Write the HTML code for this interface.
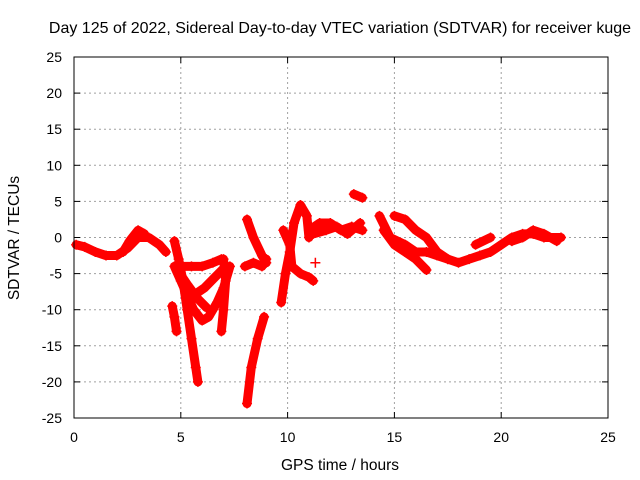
<!DOCTYPE html>
<html><head><meta charset="utf-8"><style>
body{margin:0;background:#fff;}
svg{display:block;font-family:"Liberation Sans",sans-serif;}
</style></head><body>
<svg id="chart" width="640" height="480" viewBox="0 0 640 480">
<rect width="640" height="480" fill="#fff"/>
<text x="340" y="33" font-size="16" text-anchor="middle">Day 125 of 2022, Sidereal Day-to-day VTEC variation (SDTVAR) for receiver kuge</text>
<text transform="translate(19,238) rotate(-90)" font-size="15.5" text-anchor="middle">SDTVAR / TECUs</text>
<text x="340" y="470" font-size="15.5" text-anchor="middle">GPS time / hours</text>
<g id="grid"></g><g id="series"></g><g id="axes"></g>
</svg>
<script>
const xTicks=[0,5,10,15,20,25];
const yTicks=[25,20,15,10,5,0,-5,-10,-15,-20,-25];
const trackA=[[0.1,-1],[0.5,-1.3],[1,-2],[1.5,-2.5],[2,-2.5],[2.5,-1.5],[3,0],[3.5,0],[4,-1],[4.3,-2]];
const trackA2=[[2.3,-2],[2.6,-0.5],[3.0,1],[3.3,0.5]];
const trackB=[[4.7,-0.5],[4.9,-3],[5.1,-6],[5.3,-10],[5.5,-14],[5.7,-18],[5.8,-20]];
const trackC=[[4.7,-4],[5,-6],[5.3,-8],[5.6,-10],[6,-11.5],[6.3,-11],[6.7,-9],[7,-7],[7.3,-4]];
const trackD=[[5.0,-4],[5.5,-4],[6,-4],[6.5,-3.5],[6.9,-3]];
const trackD2=[[4.8,-4.3],[5.3,-6.5],[5.8,-8.5],[6.2,-9.7]];
const trackD3=[[5.6,-8],[6.1,-7],[6.6,-5.5],[7.1,-4]];
const trackE=[[4.6,-9.5],[4.7,-11],[4.8,-13]];
const trackF=[[7.0,-3],[7.1,-6],[7.0,-10],[6.9,-13]];
const trackG=[[8.1,2.5],[8.4,0],[8.8,-2.5],[9,-3.5]];
const trackG2=[[8.0,-4],[8.4,-3.5],[8.8,-4],[9.0,-3]];
const trackH=[[8.1,-23],[8.3,-18],[8.6,-14],[8.9,-11]];
const trackI=[[9.7,-9],[9.9,-5],[10.1,-2],[10.3,2],[10.6,4.5],[10.9,3],[11,0]];
const trackI2=[[9.8,1],[10.1,-1],[10.2,-4],[10.6,-5],[11,-5.5],[11.2,-6]];
const trackJ=[[11,1],[11.5,2],[12,2],[12.5,1],[13,1.5],[13.5,1]];
const trackJ3=[[11.2,0.5],[11.8,1],[12.3,1.5],[12.8,0.5],[13.4,2]];
const trackJ2=[[13.1,6],[13.5,5.5]];
const trackK=[[14.3,3],[14.8,0],[15.5,-1],[16,-2],[16.5,-2],[17,-2.5],[17.5,-3],[18,-3.5],[18.5,-3],[19,-2.5],[19.5,-2],[20,-1],[20.5,0],[21,0.5],[21.5,0.5],[22,0],[22.8,0]];
const trackK2=[[20.5,-0.5],[21,0],[21.5,1],[22,0.5],[22.6,-0.5]];
const trackL=[[15,3],[15.5,2.5],[16,1],[16.5,0],[17,-2],[17.5,-3]];
const trackM=[[14.5,1],[15,-1],[15.5,-2],[16,-3],[16.5,-4.5]];
const trackN=[[18.8,-1],[19.5,0]];
const trackO=[[11.3,-3.5]];
const tracks=[trackA,trackA2,trackB,trackC,trackD,trackD2,trackD3,trackE,trackF,trackG,trackG2,trackH,trackI,trackI2,trackJ,trackJ3,trackJ2,trackK,trackK2,trackL,trackM,trackN,trackO];

const X0=74,X1=608,Y0=418,Y1=57;
const xs=t=>X0+(t-0)/(25-0)*(X1-X0);
const ys=v=>Y0-(v+25)/50*(Y0-Y1);
const NS='http://www.w3.org/2000/svg';
const mk=(tag,at,parent)=>{const e=document.createElementNS(NS,tag);for(const k in at)e.setAttribute(k,at[k]);parent.appendChild(e);return e;};
const grid=document.getElementById('grid'),axes=document.getElementById('axes'),series=document.getElementById('series');
xTicks.forEach(t=>{
 if(t>0&&t<25){const l=mk('line',{x1:xs(t),x2:xs(t),y1:Y1,y2:Y0,stroke:'#a0a0a0','stroke-dasharray':'2,3'},grid);
 
 }
 const tl=mk('line',{x1:xs(t),x2:xs(t),y1:Y0,y2:Y0-6,stroke:'#000'},axes);
 
 
 const tu=mk('line',{x1:xs(t),x2:xs(t),y1:Y1,y2:Y1+6,stroke:'#000'},axes);
 
 
 const tx=mk('text',{x:xs(t),y:Y0+24,'font-size':'14','text-anchor':'middle'},axes);tx.textContent=t;
 
 
});
yTicks.forEach(v=>{
 if(v>-25&&v<25){const l=mk('line',{x1:X0,x2:X1,y1:ys(v),y2:ys(v),stroke:'#a0a0a0','stroke-dasharray':'2,3'},grid);
 
 }
 const tl=mk('line',{x1:X0,x2:X0+6,y1:ys(v),y2:ys(v),stroke:'#000'},axes);
 
 
 const tr=mk('line',{x1:X1,x2:X1-6,y1:ys(v),y2:ys(v),stroke:'#000'},axes);
 
 
 const tx=mk('text',{x:X0-12,y:ys(v)+5,'font-size':'14','text-anchor':'end'},axes);tx.textContent=v;
 
 
});
const frame=mk('rect',{x:X0,y:Y1,width:X1-X0,height:Y0-Y1,fill:'none',stroke:'#000'},axes);


tracks.forEach(tr=>{
 const pts=tr.map(p=>xs(p[0])+','+ys(p[1])).join(' ');
 const pl=mk('polyline',{points:pts,fill:'none',stroke:'#ff0000','stroke-width':'9','stroke-linejoin':'round','stroke-linecap':'round'},series);
 
 
 tr.forEach(p=>{
  const x=xs(p[0]),y=ys(p[1]);
  const m=mk('path',{d:`M${x-5},${y}H${x+5}M${x},${y-5}V${y+5}`,stroke:'#ff0000','stroke-width':'1.5'},series);
  
  
 });
});
</script>
</body></html>
